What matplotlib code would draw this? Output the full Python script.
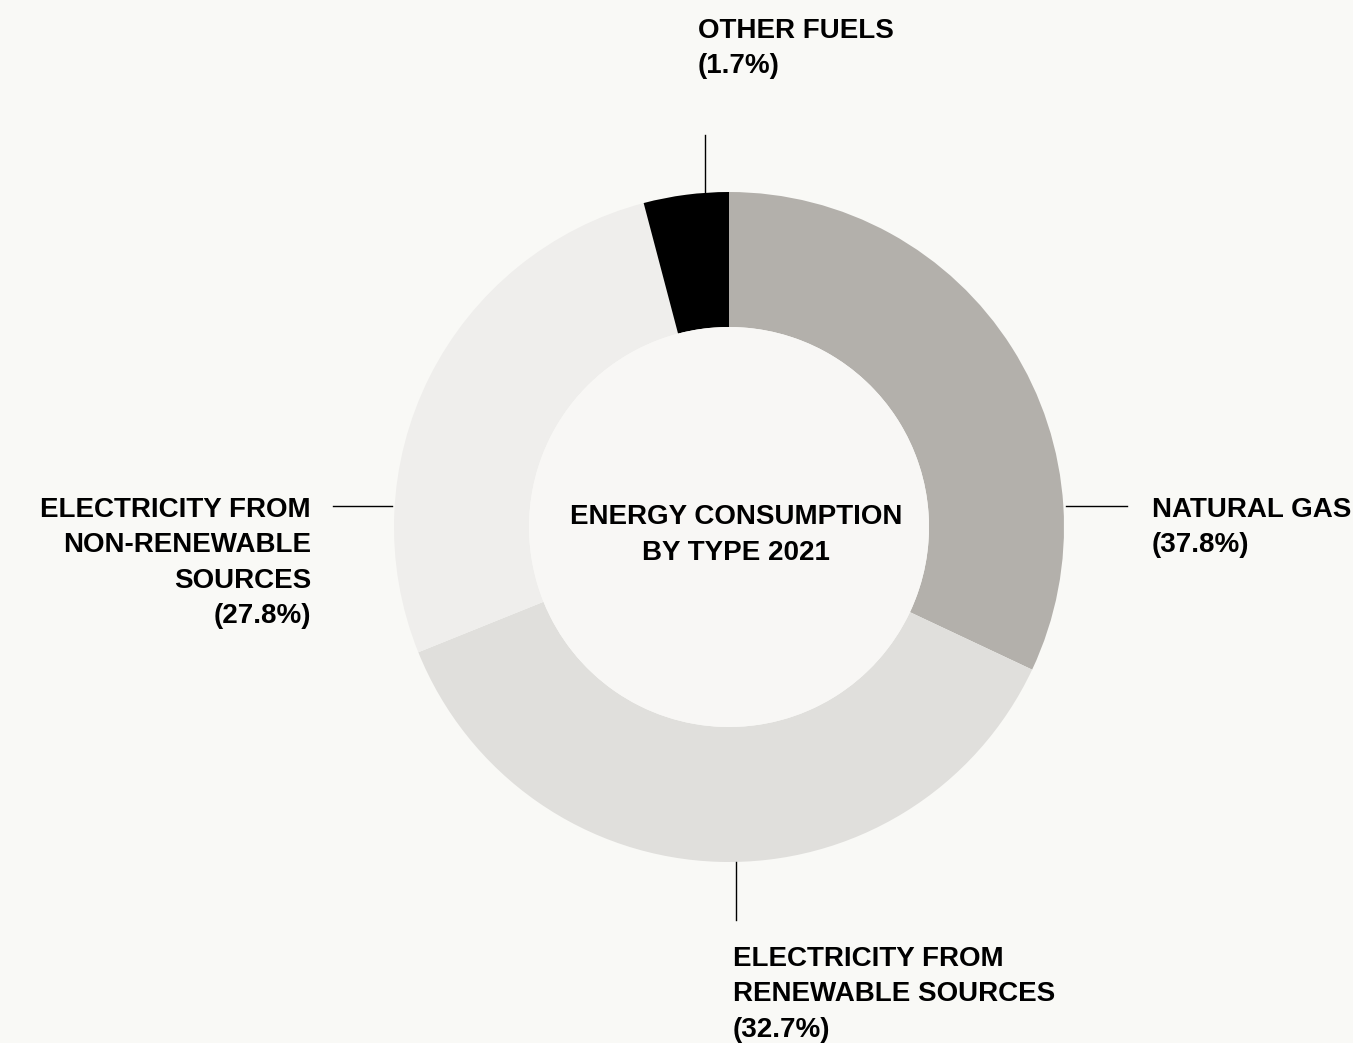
import matplotlib
matplotlib.use("Agg")
import matplotlib.pyplot as plt
from matplotlib.patches import Circle

plt.rcParams["font.family"] = ["Liberation Sans", "DejaVu Sans"]

# slice sizes (clockwise from 12 o'clock)
categories = ["NATURAL GAS", "ELECTRICITY FROM\nRENEWABLE SOURCES",
              "ELECTRICITY FROM\nNON-RENEWABLE\nSOURCES", "OTHER FUELS"]
slice_values = [32.0, 36.9, 27.0, 4.1]
pct_labels = ["37.8%", "32.7%", "27.8%", "1.7%"]
colors = ["#b3b0ab", "#e0dfdc", "#efeeec", "#000000"]

W, H = 1353, 1043
bg = "#f9f9f6"

fig = plt.figure(figsize=(W / 100, H / 100), dpi=100, facecolor=bg)
ax = fig.add_axes([0, 0, 1, 1])
ax.set_facecolor(bg)

cx, cy = 729, H - 527
r_out, r_in = 335, 200

ax.pie(slice_values, colors=colors, startangle=90, counterclock=False,
       center=(cx, cy), radius=r_out,
       wedgeprops=dict(width=r_out - r_in, linewidth=0, antialiased=True))
ax.add_patch(Circle((cx, cy), r_in, facecolor="#f8f7f5", edgecolor="none", zorder=3))

ax.set_xlim(0, W)
ax.set_ylim(0, H)
ax.set_aspect("equal")
ax.axis("off")

txt = dict(fontsize=20, fontweight="bold", color="#000000", linespacing=1.47)

def lbl(i):
    return categories[i] + "\n(" + pct_labels[i] + ")"

# leader lines (pixel positions, y measured from top)
def seg(x0, y0, x1, y1):
    ax.plot([x0, x1], [H - y0, H - y1], color="#000000", lw=1.0, zorder=4)

seg(1066, 506, 1127, 506)   # natural gas
seg(736, 862, 736, 920)     # renewable
seg(333, 506, 392, 506)     # non-renewable
seg(705, 135, 705, 192)     # other fuels

ax.text(1152, H - 497, lbl(0), ha="left", va="top", **txt)
ax.text(733, H - 946, lbl(1), ha="left", va="top", **txt)
ax.text(311, H - 497, lbl(2), ha="right", va="top", multialignment="right", **txt)
ax.text(698, H - 18, lbl(3), ha="left", va="top", **txt)

ax.text(736, H - 535, "ENERGY CONSUMPTION\nBY TYPE 2021", ha="center", va="center",
        multialignment="center", zorder=5, **txt)

fig.savefig("out.png", dpi=100, facecolor=bg)
